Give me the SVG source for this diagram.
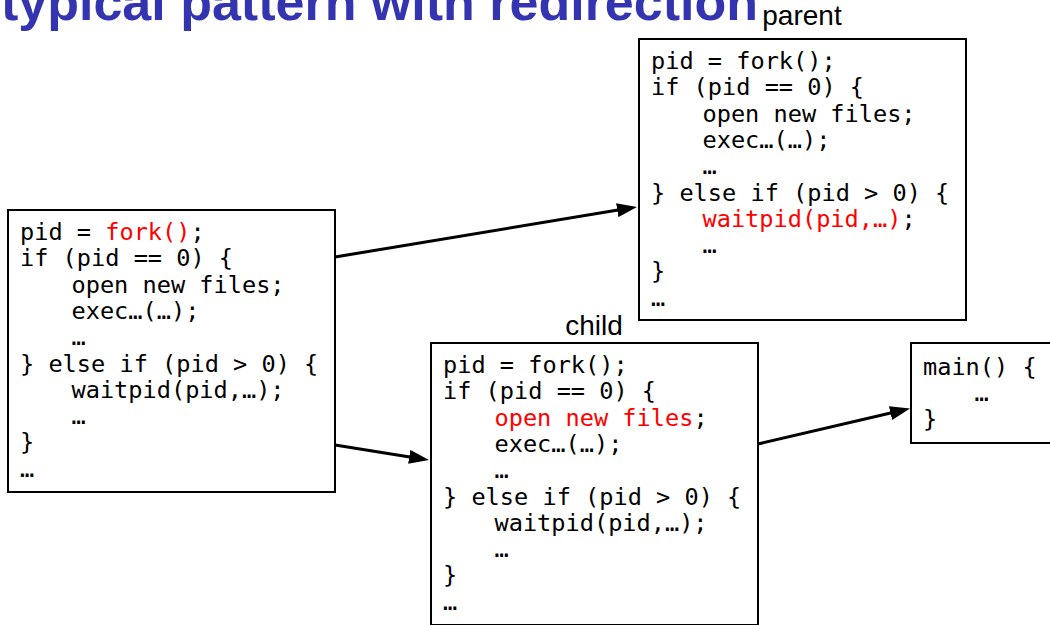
<svg xmlns="http://www.w3.org/2000/svg" width="1050" height="625" viewBox="0 0 1050 625">
  <style>
    .box { fill: #ffffff; stroke: #000000; stroke-width: 2; }
    .code { font-family: "DejaVu Sans Mono", "Liberation Mono", monospace; font-size: 23.6px; fill: #000000; }
    .hl { fill: #ff0000; }
    .label { font-family: "Liberation Sans", Arial, sans-serif; font-size: 28px; fill: #000000; text-anchor: middle; }
    .title { font-family: "Liberation Sans", Arial, sans-serif; font-weight: bold; font-size: 52px; fill: #3434b0; }
    .conn { stroke: #000000; stroke-width: 3; fill: none; marker-end: url(#head); }
  </style>
  <defs>
    <marker id="head" viewBox="0 0 20 14" refX="10" refY="7" markerWidth="20" markerHeight="14" markerUnits="userSpaceOnUse" orient="auto">
      <path d="M0,0 L20,7 L0,14 z" fill="#000000"/>
    </marker>
  </defs>

  <rect width="1050" height="625" fill="#ffffff"/>

  <text class="title" x="1" y="20" textLength="757" lengthAdjust="spacingAndGlyphs">typical pattern with redirection</text>

  <!-- original process -->
  <g id="original">
    <rect class="box" x="8" y="210" width="327" height="282"/>
    <text class="code">
      <tspan x="20" y="240">pid = <tspan class="hl">fork()</tspan>;</tspan>
      <tspan x="20" y="266.3">if (pid == 0) {</tspan>
      <tspan x="71.5" y="292.6">open new files;</tspan>
      <tspan x="71.5" y="318.9">exec…(…);</tspan>
      <tspan x="71.5" y="345.2">…</tspan>
      <tspan x="20" y="371.5">} else if (pid &gt; 0) {</tspan>
      <tspan x="71.5" y="397.8">waitpid(pid,…);</tspan>
      <tspan x="71.5" y="424.1">…</tspan>
      <tspan x="20" y="450.4">}</tspan>
      <tspan x="20" y="476.7">…</tspan>
    </text>
  </g>

  <!-- parent after fork -->
  <g id="parent">
    <text class="label" x="802" y="25">parent</text>
    <rect class="box" x="639" y="39" width="327" height="281"/>
    <text class="code">
      <tspan x="651" y="69">pid = fork();</tspan>
      <tspan x="651" y="95.3">if (pid == 0) {</tspan>
      <tspan x="702.5" y="121.6">open new files;</tspan>
      <tspan x="702.5" y="147.9">exec…(…);</tspan>
      <tspan x="702.5" y="174.2">…</tspan>
      <tspan x="651" y="200.5">} else if (pid &gt; 0) {</tspan>
      <tspan x="702.5" y="226.8"><tspan class="hl">waitpid(pid,…)</tspan>;</tspan>
      <tspan x="702.5" y="253.1">…</tspan>
      <tspan x="651" y="279.4">}</tspan>
      <tspan x="651" y="305.7">…</tspan>
    </text>
  </g>

  <!-- child after fork -->
  <g id="child">
    <text class="label" x="594" y="335">child</text>
    <rect class="box" x="431" y="343" width="327" height="282"/>
    <text class="code">
      <tspan x="443" y="373">pid = fork();</tspan>
      <tspan x="443" y="399.3">if (pid == 0) {</tspan>
      <tspan x="494.5" y="425.6"><tspan class="hl">open new files</tspan>;</tspan>
      <tspan x="494.5" y="451.9">exec…(…);</tspan>
      <tspan x="494.5" y="478.2">…</tspan>
      <tspan x="443" y="504.5">} else if (pid &gt; 0) {</tspan>
      <tspan x="494.5" y="530.8">waitpid(pid,…);</tspan>
      <tspan x="494.5" y="557.1">…</tspan>
      <tspan x="443" y="583.4">}</tspan>
      <tspan x="443" y="609.7">…</tspan>
    </text>
  </g>

  <!-- exec'd program -->
  <g id="program">
    <rect class="box" x="911" y="343" width="150" height="100"/>
    <text class="code">
      <tspan x="923" y="374.5">main() {</tspan>
      <tspan x="974.5" y="400.8">…</tspan>
      <tspan x="923" y="427.1">}</tspan>
    </text>
  </g>

  <g id="connectors">
    <line class="conn" x1="335" y1="257" x2="627.1" y2="208.6"/>
    <line class="conn" x1="335" y1="445" x2="419.1" y2="458.4"/>
    <line class="conn" x1="758" y1="444" x2="900.3" y2="410.8"/>
  </g>
</svg>
